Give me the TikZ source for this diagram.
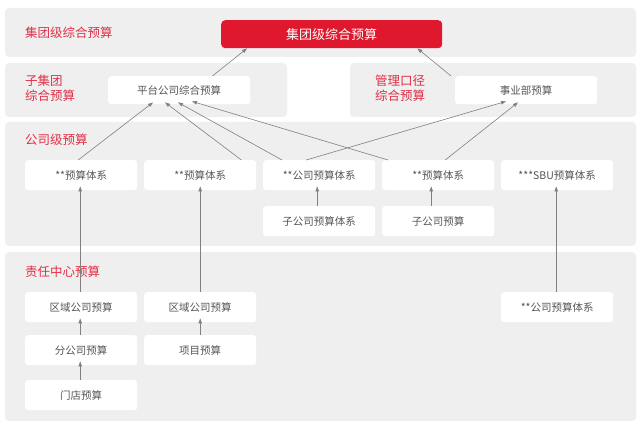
\documentclass[tikz,border=0pt]{standalone}
\usepackage{fontspec}
\setmainfont{Noto Sans CJK SC}
\usetikzlibrary{arrows.meta}
\definecolor{band}{HTML}{EFEFEF}
\definecolor{myred}{HTML}{E0182D}
\definecolor{lab}{HTML}{E03048}
\definecolor{txt}{HTML}{555555}
\definecolor{arr}{HTML}{808080}
\begin{document}
\begin{tikzpicture}[x=1pt,y=-1pt,
  bandbox/.style={fill=band,rounded corners=4pt},
  bx/.style={fill=white,rounded corners=3pt,minimum width=112pt,minimum height=30pt,inner sep=0pt,text=txt,font=\fontsize{10.5}{12}\selectfont,anchor=north west},
  lbl/.style={text=lab,font=\fontsize{12.5}{15}\selectfont,anchor=west,align=left,inner sep=0pt},
  ar/.style={draw=arr,line width=0.6pt,-{Triangle[length=5pt,width=3.5pt]}}]
\useasboundingbox (0,0) rectangle (640,427);
\fill[white] (0,0) rectangle (640,427);
\fill[bandbox] (5,8) rectangle (636,57);
\fill[bandbox] (5,63) rectangle (287,117);
\fill[bandbox] (350,63) rectangle (636,117);
\fill[bandbox] (5,122) rectangle (636,246);
\fill[bandbox] (5,252) rectangle (636,421);
\node[lbl] (l1) at (25,33) {集团级综合预算};
\node[lbl] (l2) at (25,88) {子集团\\综合预算};
\node[lbl] (l3) at (375,88) {管理口径\\综合预算};
\node[lbl] (l4) at (25,140) {公司级预算};
\node[lbl] (l5) at (25,272) {责任中心预算};
\node[fill=myred,rounded corners=4pt,minimum width=221pt,minimum height=28pt,inner sep=0pt,text=white,font=\fontsize{13}{15}\selectfont,anchor=north west] (top) at (221,20) {集团级综合预算};
\node[bx,minimum width=142pt,minimum height=28pt] (pt) at (108,76) {平台公司综合预算};
\node[bx,minimum width=142pt,minimum height=28pt] (sy) at (455,76) {事业部预算};
\node[bx] (a1) at (25,160) {**预算体系};
\node[bx] (a2) at (144,160) {**预算体系};
\node[bx] (a3) at (263,160) {**公司预算体系};
\node[bx] (a4) at (382,160) {**预算体系};
\node[bx] (a5) at (501,160) {***SBU预算体系};
\node[bx] (b3) at (263,206) {子公司预算体系};
\node[bx] (b4) at (382,206) {子公司预算};
\node[bx] (c1) at (25,292) {区域公司预算};
\node[bx] (c2) at (144,292) {区域公司预算};
\node[bx] (c5) at (501,292) {**公司预算体系};
\node[bx] (d1) at (25,335) {分公司预算};
\node[bx] (d2) at (144,335) {项目预算};
\node[bx] (e1) at (25,380) {门店预算};
\draw[ar] ([xshift=-38pt]pt.north east) -- ([xshift=26pt]top.south west);
\draw[ar] ([xshift=-4pt]sy.north west) -- ([xshift=-25pt]top.south east);
\draw[ar] ([xshift=-3pt]a1.north) -- ([xshift=45pt,yshift=2pt]pt.south west);
\draw[ar] ([xshift=-15pt]a2.north east) -- ([xshift=57pt,yshift=2pt]pt.south west);
\draw[ar] ([xshift=19pt]a3.north west) -- ([xshift=70pt,yshift=2pt]pt.south west);
\draw[ar] ([xshift=6pt]a4.north west) -- ([xshift=84pt,yshift=3pt]pt.south west);
\draw[ar] ([xshift=-13pt]a3.north) -- ([xshift=51pt,yshift=3pt]sy.south west);
\draw[ar] ([xshift=7pt]a4.north) -- ([xshift=63pt,yshift=2pt]sy.south west);
\draw[ar] ([xshift=-1pt]c1.north) -- ([xshift=-1pt,yshift=4pt]a1.south);
\draw[ar] (c2.north) -- ([yshift=4pt]a2.south);
\draw[ar] ([xshift=-1pt]c5.north) -- ([xshift=-1pt,yshift=4pt]a5.south);
\draw[ar] ([xshift=-2pt]b3.north) -- ([xshift=-2pt,yshift=4pt]a3.south);
\draw[ar] ([xshift=-7pt]b4.north) -- ([xshift=-7pt,yshift=4pt]a4.south);
\draw[ar] ([xshift=-1pt]d1.north) -- ([xshift=-1pt,yshift=4pt]c1.south);
\draw[ar] (d2.north) -- ([yshift=4pt]c2.south);
\draw[ar] ([xshift=-1pt]e1.north) -- ([xshift=-1pt,yshift=4pt]d1.south);
\end{tikzpicture}
\end{document}
